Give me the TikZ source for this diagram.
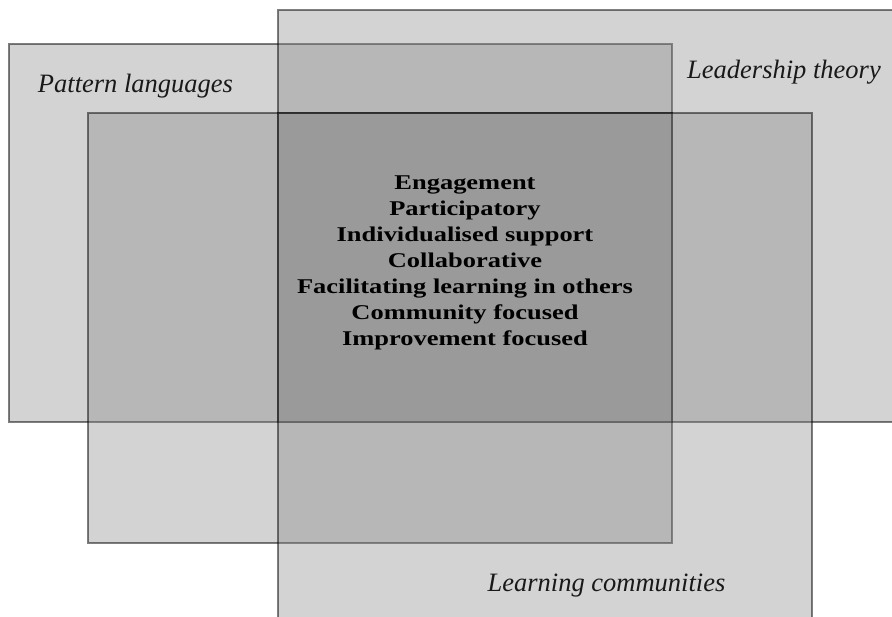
\documentclass[tikz,border=0pt]{standalone}
\usepackage{fontspec}
\setmainfont{Liberation Serif}
\begin{document}
\begin{tikzpicture}[x=1pt, y=-1pt,
  area/.style={fill=black!47, fill opacity=0.36, draw=black, draw opacity=0.5, line width=1.8pt},
  setlabel/.style={font=\fontsize{26.5}{30}\selectfont\itshape, text=black!90, inner sep=0pt},
  traits/.style={font=\fontsize{21}{26}\selectfont\bfseries, align=center, text=black, inner sep=0pt, xscale=1.26}]
\useasboundingbox (0,0) rectangle (892,617);
\clip (0,0) rectangle (892,617);
\fill[white] (0,0) rectangle (892,617);
% the four overlapping areas
\draw[area] (9,44) rectangle (672,422);
\draw[area] (278,10) rectangle (905,422);
\draw[area] (88,113) rectangle (672,543);
\draw[area] (278,113) rectangle (812,630);
% labels
\node[setlabel] (pattern) at (135.5,86) {Pattern languages};
\node[setlabel] (leader) at (784,72) {Leadership theory};
\node[setlabel] (learning) at (606.5,586) {Learning communities};
\node[traits] (common) at (465,263) {Engagement\\Participatory\\Individualised support\\Collaborative\\Facilitating learning in others\\Community focused\\Improvement focused};
\end{tikzpicture}
\end{document}
